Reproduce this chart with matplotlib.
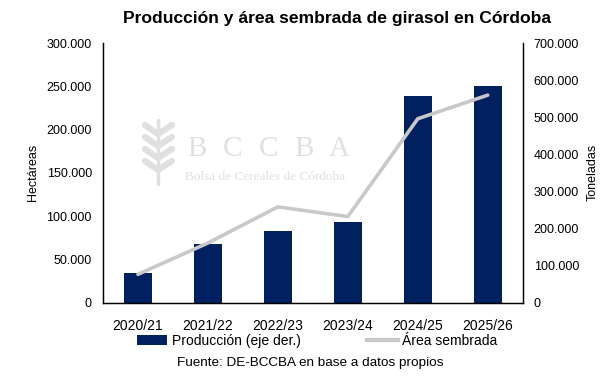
import matplotlib
matplotlib.use('Agg')
import matplotlib.pyplot as plt
from matplotlib.ticker import FuncFormatter, MultipleLocator
from matplotlib.lines import Line2D
from matplotlib.patches import Patch

plt.rcParams['font.family'] = ['Liberation Sans', 'DejaVu Sans']

# datos
campanias = ['2020/21', '2021/22', '2022/23', '2023/24', '2024/25', '2025/26']
produccion_tn = [80900, 158400, 193500, 217800, 557800, 584800]   # eje der.
area_ha = [32800, 69000, 110700, 99500, 212500, 239800]            # eje izq.

AZUL = '#002060'
GRIS = '#C8C8C8'
MARCA = '#E0E0E0'


def miles(v, _pos=None):
    return f'{int(round(v)):,}'.replace(',', '.')


fig = plt.figure(figsize=(6.08, 3.78), dpi=100, facecolor='white')
ax = fig.add_axes([0.1694, 0.1992, 0.8597 - 0.1694, 0.8862 - 0.1992])
ax2 = ax.twinx()

# marca de agua (detrás de todo)
wm = fig.add_axes([0, 0, 1, 1], zorder=-1)
wm.set_xlim(0, 608); wm.set_ylim(378, 0); wm.axis('off')
for i, letra in enumerate('BCCBA'):
    wm.text(197 + i * 35.5, 149, letra, family=['Liberation Serif', 'DejaVu Serif'],
            fontsize=21, color=MARCA, ha='center', va='center')
wm.text(265, 177, 'Bolsa de Cereales de Córdoba', family=['Liberation Serif', 'DejaVu Serif'],
        fontsize=9.5, color=MARCA, ha='center', va='center')
# espiga
wm.plot([158, 158], [120, 184], color=MARCA, lw=2.5, solid_capstyle='round')
for yy in [134, 146, 158, 170]:
    wm.plot([145, 158, 172], [yy - 9, yy, yy - 9], color=MARCA, lw=4.5, solid_capstyle='round')
ax.patch.set_alpha(0)
ax2.patch.set_alpha(0)

x = range(len(campanias))
ax2.bar(x, produccion_tn, width=0.4, color=AZUL, zorder=2)
ax2.set_zorder(1)
ax.set_zorder(2)
ax.plot(x, area_ha, color=GRIS, lw=2.6, solid_capstyle='round', zorder=3)

ax.set_xlim(-0.5, len(campanias) - 0.5)
ax.set_ylim(0, 300000)
ax2.set_ylim(0, 700000)
ax.yaxis.set_major_locator(MultipleLocator(50000))
ax2.yaxis.set_major_locator(MultipleLocator(100000))
ax.yaxis.set_major_formatter(FuncFormatter(miles))
ax2.yaxis.set_major_formatter(FuncFormatter(miles))
ax.set_xticks(list(x))
ax.set_xticklabels(campanias)

for a in (ax, ax2):
    a.spines['top'].set_visible(False)
    for s in ('left', 'right', 'bottom'):
        a.spines[s].set_color('black')
        a.spines[s].set_linewidth(0.9)
    a.tick_params(length=0, labelsize=9, colors='black')
ax.tick_params(axis='x', labelsize=10, pad=12)
ax.tick_params(axis='y', pad=8)
ax2.tick_params(axis='y', pad=8)

ax.set_ylabel('Hectáreas', fontsize=9)
ax.yaxis.set_label_coords(-0.153, 0.5)
ax2.set_ylabel('Toneladas', fontsize=9, rotation=90)
ax2.yaxis.set_label_coords(1.153, 0.5)

fig.text(0.554, 0.952, 'Producción y área sembrada de girasol en Córdoba',
         ha='center', va='center', fontsize=12.6, fontweight='bold')

handles = [Patch(facecolor=AZUL, edgecolor='none'),
           Line2D([0], [0], color=GRIS, lw=3)]
fig.legend(handles, ['Producción (eje der.)', 'Área sembrada'],
           loc='center', bbox_to_anchor=(317 / 608, 1 - 341 / 378), ncol=2,
           frameon=False, fontsize=10, handlelength=2.2, handleheight=0.7,
           handletextpad=0.3, columnspacing=4.8)

fig.text(310 / 608, 1 - 363 / 378, 'Fuente: DE-BCCBA en base a datos propios',
         ha='center', va='center', fontsize=9.7)

fig.savefig('out.png', dpi=100, facecolor='white')
